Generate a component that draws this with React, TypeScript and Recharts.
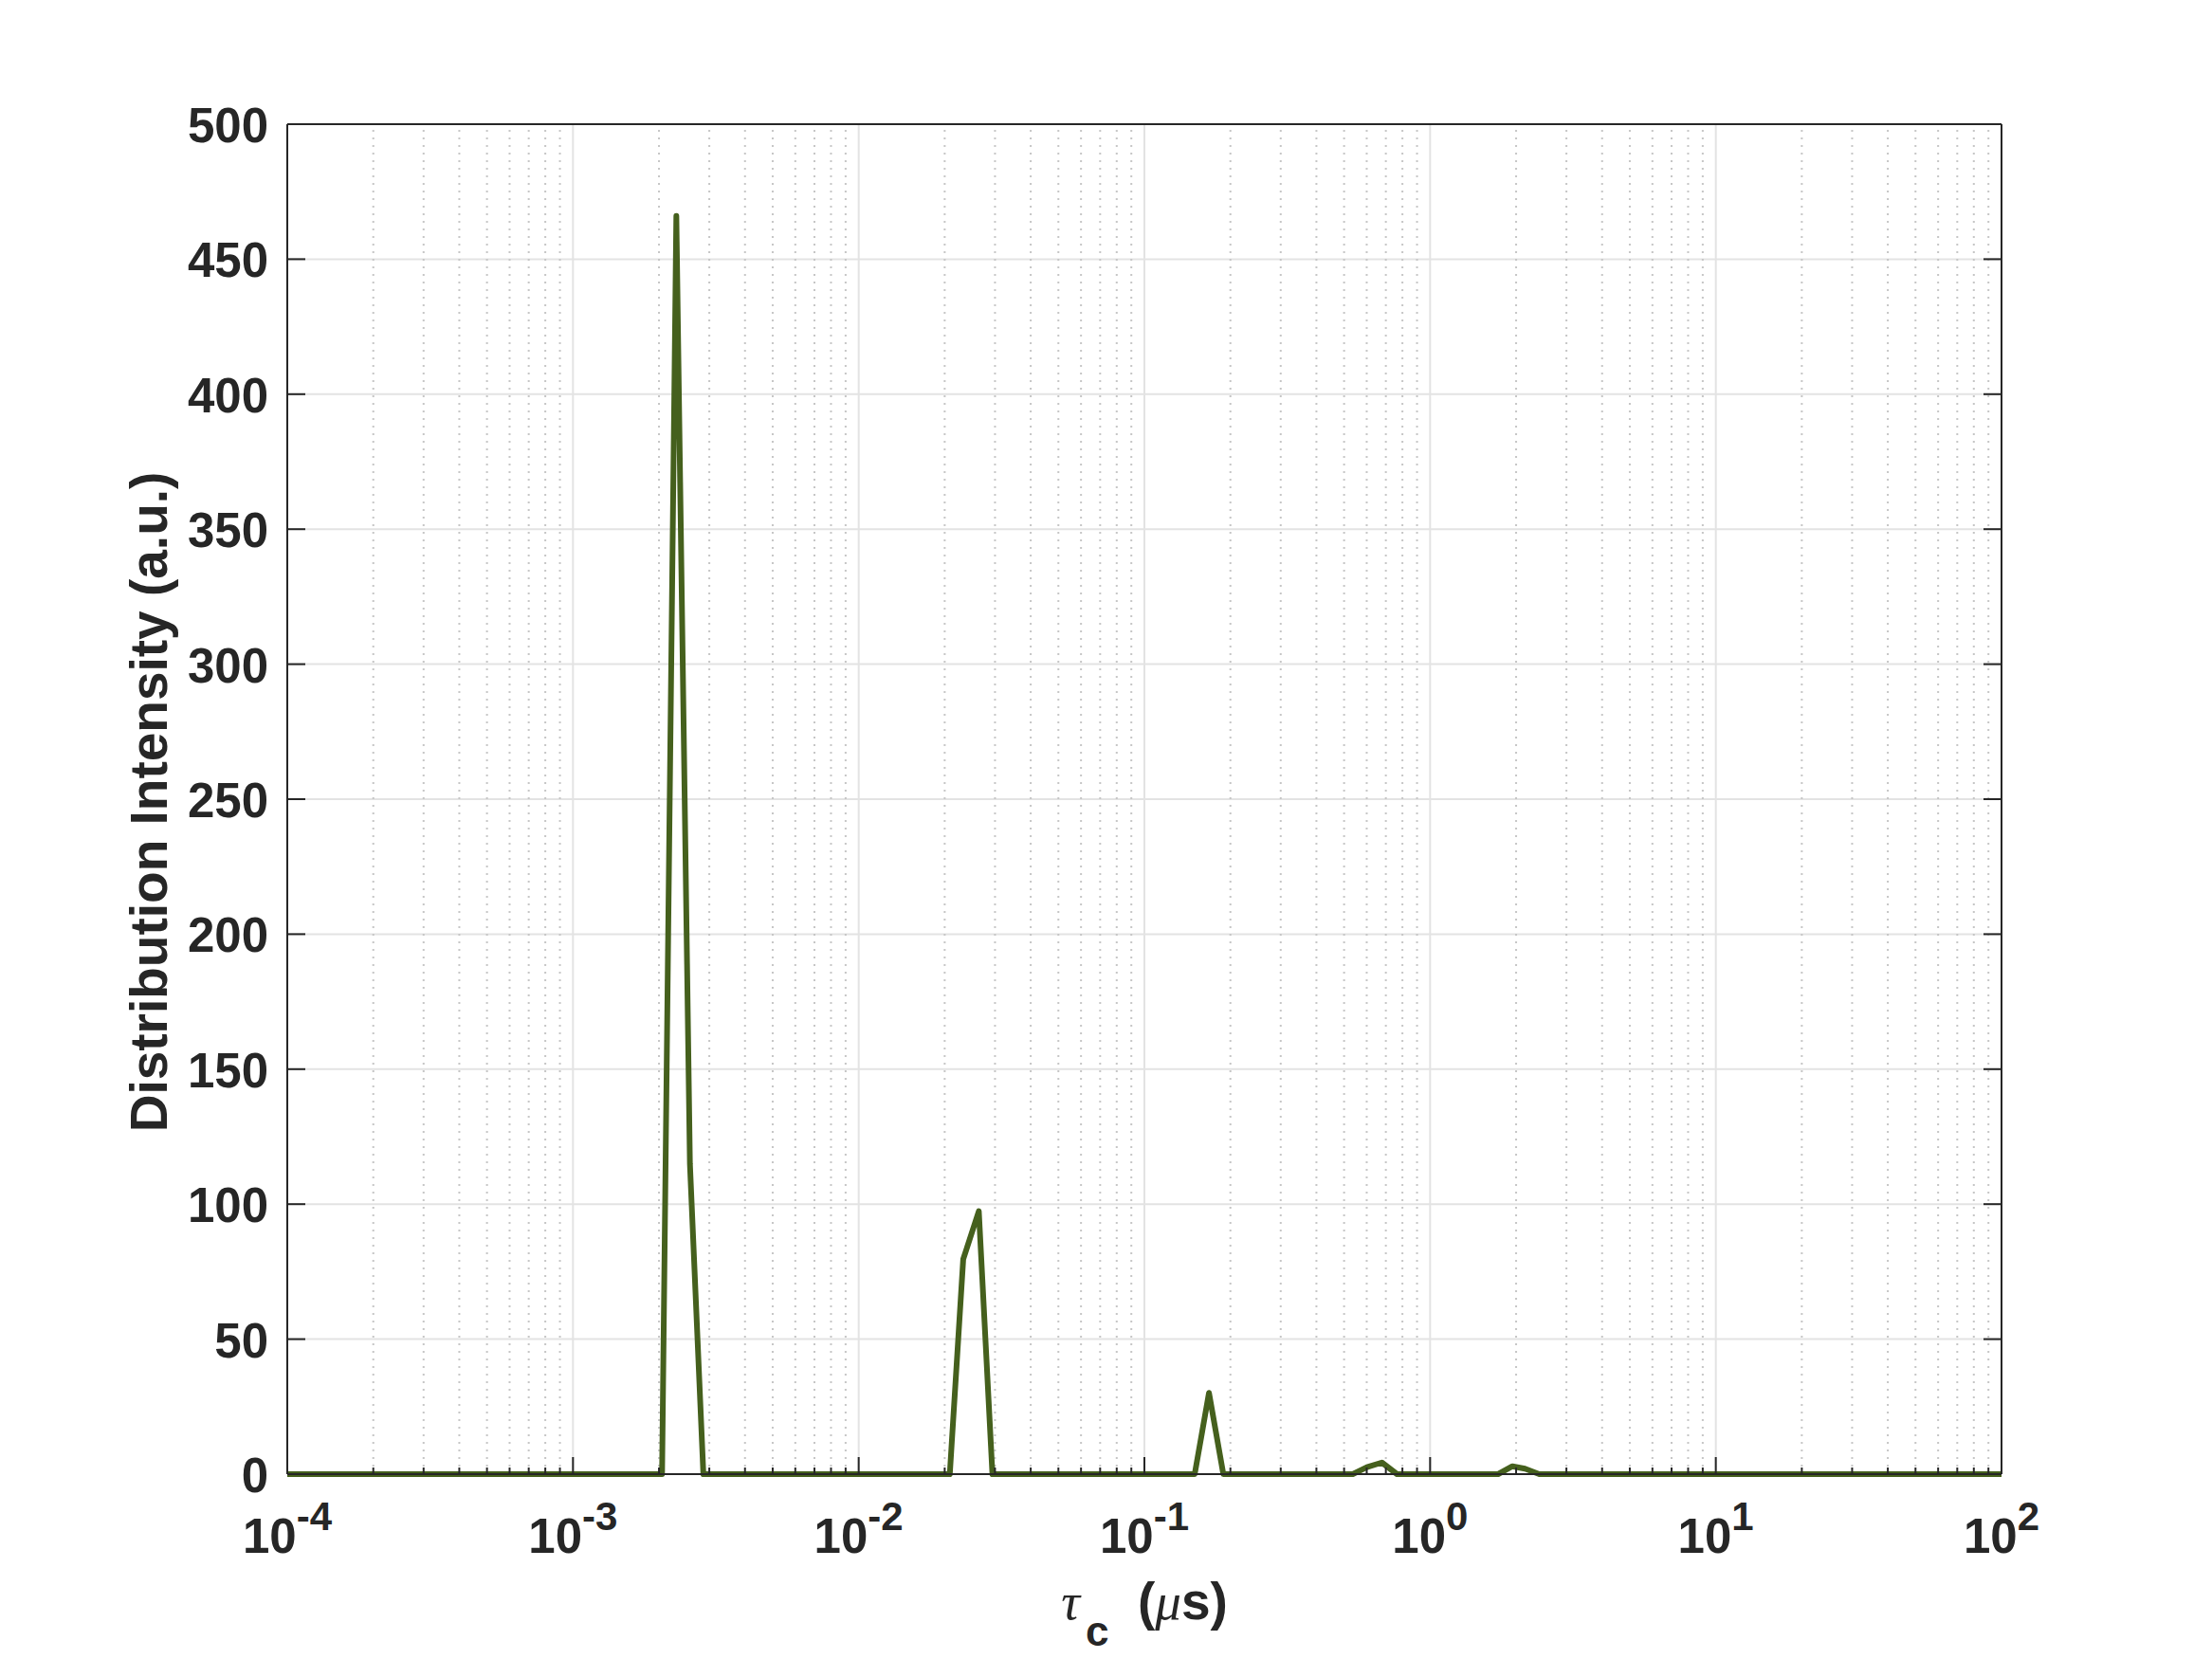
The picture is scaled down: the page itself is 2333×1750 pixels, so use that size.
import React from 'react';
import { LineChart, Line, XAxis, YAxis, CartesianGrid, ReferenceLine } from 'recharts';

// correlation time (µs) and distribution intensity
const tau = [
  1e-4, 2.05e-3, 2.3e-3, 2.566e-3, 2.86e-3,
  0.02084, 0.02322, 0.02633, 0.02938,
  0.15, 0.1683, 0.1889,
  0.5364, 0.601, 0.678, 0.766,
  1.73, 1.941, 2.149, 2.41, 100,
];
const intensity = [
  0, 0, 466, 115, 0,
  0, 79.6, 97.4, 0,
  0, 30.1, 0,
  0, 2.6, 4.3, 0,
  0, 2.9, 2.0, 0, 0,
];

const decades = [1e-4, 1e-3, 1e-2, 1e-1, 1, 10, 100];
const decadeLabels = ['-4', '-3', '-2', '-1', '0', '1', '2'];
const minorSteps = [2, 3, 4, 5, 6, 7, 8, 9];
const yTicks = [0, 50, 100, 150, 200, 250, 300, 350, 400, 450, 500];

const minorTicks = decades.slice(0, -1).flatMap((d) => minorSteps.map((m) => d * m));
const allXTicks = [...decades, ...minorTicks].sort((a, b) => a - b);

const data = tau.map((t, i) => ({ tau: t, intensity: intensity[i] }));

const FONT = '"Liberation Sans", Arial, Helvetica, sans-serif';
const SERIF = '"Liberation Serif", "DejaVu Serif", serif';
const INK = '#262626';
const MAJOR_LEN = 18;
const MINOR_LEN = 7;
const TICK_FS = 51;
const TITLE_FS = 55;

const isDecade = (v: number) => {
  const l = Math.log10(v);
  return Math.abs(l - Math.round(l)) < 1e-9;
};

const BottomTick = (props: any) => {
  const { x, y, payload } = props;
  const major = isDecade(payload.value);
  const idx = decades.findIndex((d) => Math.abs(Math.log10(d) - Math.log10(payload.value)) < 1e-9);
  return (
    <g>
      <line x1={x} y1={y} x2={x} y2={y - (major ? MAJOR_LEN : MINOR_LEN)} stroke={INK} strokeWidth={2} />
      {major && (
        <text x={x} y={y + 83} textAnchor="middle" fontFamily={FONT} fontWeight="bold" fontSize={TICK_FS} fill={INK}>
          <tspan>10</tspan>
          <tspan dy={-24} fontSize={42}>{decadeLabels[idx]}</tspan>
        </text>
      )}
    </g>
  );
};

const TopTick = (props: any) => {
  const { x, y, payload } = props;
  const major = isDecade(payload.value);
  return <line x1={x} y1={y} x2={x} y2={y + (major ? MAJOR_LEN : MINOR_LEN)} stroke={INK} strokeWidth={2} />;
};

const LeftTick = (props: any) => {
  const { x, y, payload } = props;
  return (
    <g>
      <line x1={x} y1={y} x2={x + 19} y2={y} stroke={INK} strokeWidth={2} />
      <text x={x - 20} y={y + 19} textAnchor="end" fontFamily={FONT} fontWeight="bold" fontSize={TICK_FS} fill={INK}>
        {payload.value}
      </text>
    </g>
  );
};

const RightTick = (props: any) => {
  const { x, y } = props;
  return <line x1={x} y1={y} x2={x - 19} y2={y} stroke={INK} strokeWidth={2} />;
};

const XTitle = () => (
  <text x={1207} y={1708} textAnchor="middle" fontFamily={FONT} fontWeight="bold" fontSize={TITLE_FS} fill={INK}>
    <tspan fontFamily={SERIF} fontStyle="italic" fontWeight="normal">τ</tspan>
    <tspan dx={6} dy={28} fontSize={44}>c</tspan>
    <tspan dy={-28}>{'\u00a0\u00a0('}</tspan>
    <tspan fontFamily={SERIF} fontStyle="italic" fontWeight="normal">μ</tspan>
    <tspan>s)</tspan>
  </text>
);

const YTitle = () => (
  <text
    x={176}
    y={846}
    transform="rotate(-90, 176, 846)"
    textAnchor="middle"
    fontFamily={FONT}
    fontWeight="bold"
    fontSize={TITLE_FS}
    fill={INK}
  >
    Distribution Intensity (a.u.)
  </text>
);

export default function App() {
  return (
    <div style={{ position: 'absolute', left: 0, top: 0, width: 2333, height: 1750, background: '#ffffff' }}>
      <LineChart width={2333} height={1750} data={data} margin={{ top: 130, right: 221, bottom: 194, left: 302 }}>
        <CartesianGrid vertical={false} stroke="#e3e3e3" strokeWidth={2} />
        {minorTicks.map((v) => (
          <ReferenceLine key={'m' + v} x={v} stroke="#c6c6c6" strokeWidth={2} strokeDasharray="2 6" />
        ))}
        {decades.slice(1, -1).map((v) => (
          <ReferenceLine key={'d' + v} x={v} stroke="#e3e3e3" strokeWidth={2} />
        ))}
        <XAxis
          dataKey="tau"
          type="number"
          scale="log"
          domain={[1e-4, 100]}
          allowDataOverflow
          ticks={allXTicks}
          interval={0}
          height={1}
          tickSize={0}
          tickMargin={0}
          tickLine={false}
          axisLine={{ stroke: INK, strokeWidth: 2 }}
          tick={(p: any) => <BottomTick {...p} />}
          label={<XTitle />}
        />
        <XAxis
          xAxisId="top"
          orientation="top"
          type="number"
          scale="log"
          domain={[1e-4, 100]}
          allowDataOverflow
          ticks={allXTicks}
          interval={0}
          height={1}
          tickSize={0}
          tickMargin={0}
          tickLine={false}
          axisLine={{ stroke: INK, strokeWidth: 2 }}
          tick={(p: any) => <TopTick {...p} />}
        />
        <YAxis
          type="number"
          domain={[0, 500]}
          ticks={yTicks}
          interval={0}
          width={1}
          tickSize={0}
          tickMargin={0}
          tickLine={false}
          axisLine={{ stroke: INK, strokeWidth: 2 }}
          tick={(p: any) => <LeftTick {...p} />}
          label={<YTitle />}
        />
        <YAxis
          yAxisId="right"
          orientation="right"
          type="number"
          domain={[0, 500]}
          allowDataOverflow
          ticks={yTicks}
          interval={0}
          width={1}
          tickSize={0}
          tickMargin={0}
          tickLine={false}
          axisLine={{ stroke: INK, strokeWidth: 2 }}
          tick={(p: any) => <RightTick {...p} />}
        />
        <Line
          type="linear"
          dataKey="intensity"
          stroke="#45601d"
          strokeWidth={6}
          strokeLinejoin="round"
          dot={false}
          activeDot={false}
          isAnimationActive={false}
        />
      </LineChart>
    </div>
  );
}
